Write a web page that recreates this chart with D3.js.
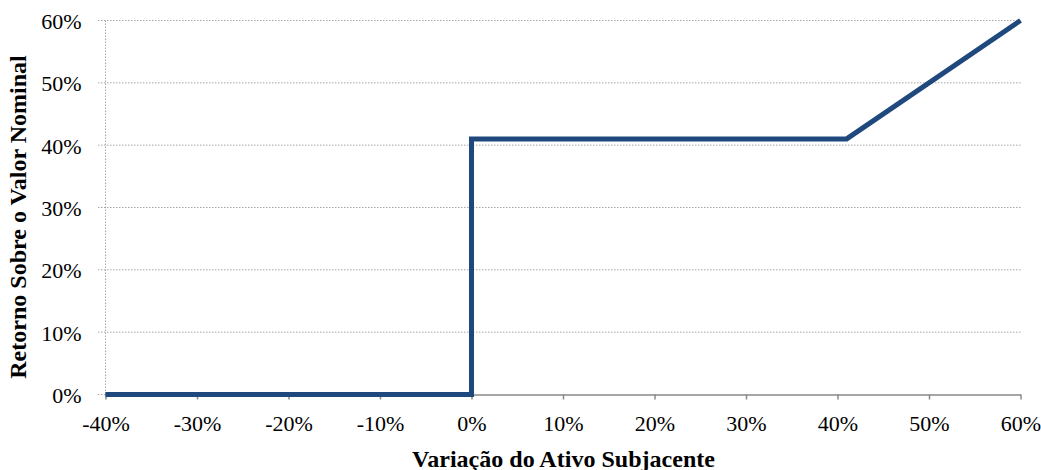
<!DOCTYPE html>
<html><head><meta charset="utf-8">
<script src="https://cdn.jsdelivr.net/npm/d3@7"></script>
<style>body{margin:0;background:#fff}svg{display:block}</style>
</head><body><svg id="c" width="1041" height="470"></svg>
<script>
const xValues = [-40, 0, 0, 41, 60];
const yValues = [0, 0, 41, 41, 60];
const xTicks = [-40, -30, -20, -10, 0, 10, 20, 30, 40, 50, 60];
const yTicks = [0, 10, 20, 30, 40, 50, 60];
const xTitle = "Variação do Ativo Subjacente";
const yTitle = "Retorno Sobre o Valor Nominal";
const SERIF = "'Liberation Serif', 'Times New Roman', serif";

const svg = d3.select("#c");
const x = d3.scaleLinear().domain([-40, 60]).range([105.5, 1020.5]);
const y = d3.scaleLinear().domain([0, 60]).range([394.5, 20.5]);

const gy = svg.append("g");
gy.selectAll("line").data(yTicks.filter(d => d !== 0)).join("line")
  .attr("x1", 98).attr("x2", x(60))
  .attr("y1", d => y(d)).attr("y2", d => y(d))
  .attr("stroke", "#a6a6a6").attr("stroke-width", 1).attr("stroke-dasharray", "1.5,1.5");
gy.append("line").attr("x1", 98).attr("x2", x(-40)).attr("y1", y(0)).attr("y2", y(0))
  .attr("stroke", "#a6a6a6").attr("stroke-dasharray", "1.5,1.5");
svg.append("line").attr("x1", x(-40)).attr("x2", x(-40)).attr("y1", y(60)).attr("y2", y(0))
  .attr("stroke", "#a6a6a6").attr("stroke-dasharray", "1.5,1.5");

const xa = svg.append("g").attr("transform", `translate(0,${y(0)})`)
  .call(d3.axisBottom(x).tickValues(xTicks).tickSize(5).tickSizeOuter(0).tickFormat(d => d + "%"));
xa.select(".domain").attr("stroke", "#888").attr("stroke-width", 1.5);
xa.selectAll(".tick line").attr("stroke", "#888").attr("stroke-width", 1.5);
xa.selectAll("text").attr("dy", null).attr("y", 36.5)
  .style("font-family", SERIF).style("font-size", "22px").attr("fill", "#000");

const ya = svg.append("g").attr("transform", `translate(${x(-40)},0)`)
  .call(d3.axisLeft(y).tickValues(yTicks).tickSize(0).tickFormat(d => d + "%"));
ya.select(".domain").remove();
ya.selectAll("text").attr("x", -24).attr("dy", null).attr("y", 8)
  .style("font-family", SERIF).style("font-size", "22px").attr("fill", "#000");

const pts = xValues.map((v, i) => [v, yValues[i]]);
svg.append("path").datum(pts)
  .attr("d", d3.line().x(d => x(d[0])).y(d => y(d[1])))
  .attr("fill", "none").attr("stroke", "#1F497D").attr("stroke-width", 5)
  .attr("stroke-linejoin", "miter").attr("stroke-linecap", "butt");

const xt = svg.append("text").attr("x", 563.5).attr("y", 466.5).attr("text-anchor", "middle")
  .style("font-family", SERIF).style("font-size", "20px").style("font-weight", "bold").text(xTitle);
const w = xt.node().getComputedTextLength();
const fs = 20 * 303 / w;
xt.style("font-size", fs + "px");
svg.append("text").attr("transform", "translate(26,217) rotate(-90)").attr("text-anchor", "middle")
  .style("font-family", SERIF).style("font-size", fs + "px").style("font-weight", "bold").text(yTitle);
</script></body></html>
